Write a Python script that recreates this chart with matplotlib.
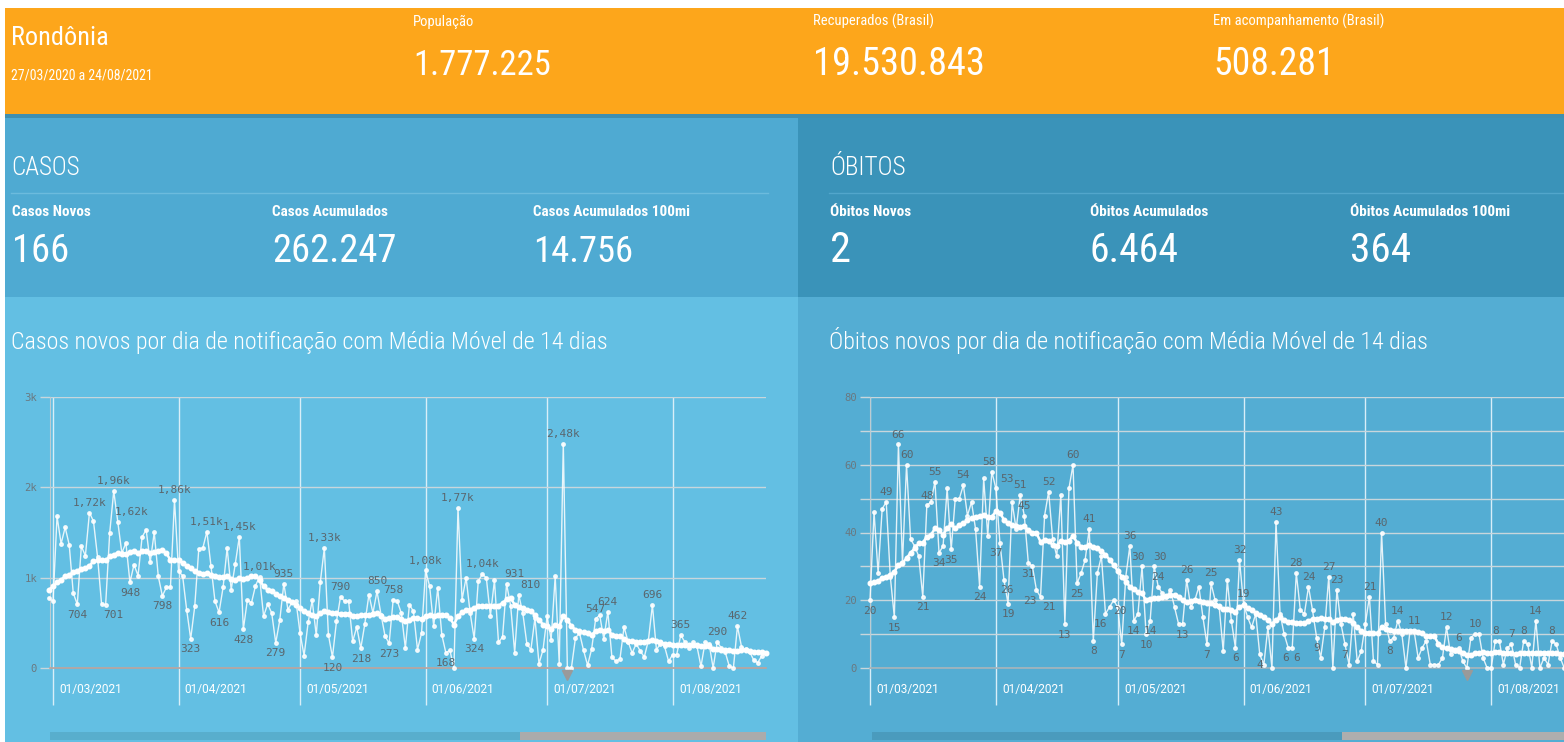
import matplotlib
matplotlib.use("Agg")
import matplotlib.pyplot as plt
import matplotlib.dates as mdates
from matplotlib import font_manager as fm
from matplotlib.patches import Rectangle
from matplotlib.transforms import ScaledTranslation
import pandas as pd

W, H = 1564, 742

# pick the most condensed sans family that is installed (falls back to Roboto)
_names = {f.name for f in fm.fontManager.ttflist}
_pref = ['Noto Sans ExtraCondensed', 'Roboto Condensed', 'Noto Sans Condensed',
         'Open Sans Condensed', 'Liberation Sans Narrow', 'DejaVu Sans Condensed',
         'Noto Sans SemiCondensed', 'Open Sans SemiCondensed', 'Roboto']
COND_NAME = next((n for n in _pref if n in _names), 'DejaVu Sans')
COND = [COND_NAME, 'DejaVu Sans']
MONO = ['DejaVu Sans Mono']

# ---------------- data ----------------
state_name = "Rondônia"
period = "27/03/2020 a 24/08/2021"
header_labels = ["População", "Recuperados (Brasil)", "Em acompanhamento (Brasil)"]
header_values = ["1.777.225", "19.530.843", "508.281"]
case_section = "CASOS"
death_section = "ÓBITOS"
case_kpi_labels = ["Casos Novos", "Casos Acumulados", "Casos Acumulados 100mi"]
case_kpi_values = ["166", "262.247", "14.756"]
death_kpi_labels = ["Óbitos Novos", "Óbitos Acumulados", "Óbitos Acumulados 100mi"]
death_kpi_values = ["2", "6.464", "364"]
case_title = "Casos novos por dia de notificação com Média Móvel de 14 dias"
death_title = "Óbitos novos por dia de notificação com Média Móvel de 14 dias"

cases_start = "2021-02-28"
deaths_start = "2021-03-01"

cases_daily = [775, 738, 1679, 1376, 1557, 1365, 830, 704, 1347, 1243,
               1720, 1624, 1229, 705, 701, 1494, 1960, 1620, 1273, 1384,
               948, 1144, 1022, 1450, 1531, 1170, 1502, 1015, 798, 893,
               893, 1860, 1070, 1022, 646, 323, 683, 1321, 1328, 1510,
               1133, 738, 616, 893, 1328, 867, 1151, 1450, 428, 756,
               720, 911, 1010, 572, 708, 609, 279, 531, 935, 646,
               727, 738, 387, 137, 505, 749, 362, 948, 1330, 369,
               120, 517, 790, 738, 738, 295, 454, 218, 491, 812,
               609, 850, 590, 351, 273, 758, 740, 609, 221, 701,
               627, 203, 387, 1080, 904, 461, 886, 369, 168, 196,
               0, 1770, 756, 1000, 609, 324, 959, 1040, 996, 579,
               970, 284, 343, 931, 690, 170, 810, 609, 269, 203,
               553, 48, 203, 572, 314, 1015, 48, 2480, 0, 0,
               332, 387, 196, 30, 210, 547, 583, 321, 624, 122,
               74, 103, 454, 292, 166, 269, 188, 122, 303, 696,
               203, 269, 240, 74, 148, 148, 365, 288, 221, 284,
               240, 18, 284, 269, 0, 290, 221, 173, 18, 0,
               462, 236, 206, 181, 89, 59, 133, 166]

cases_ma = [867, 904, 948, 978, 1015, 1033, 1059, 1077, 1096, 1107,
            1133, 1181, 1192, 1199, 1192, 1236, 1255, 1273, 1266, 1266,
            1280, 1292, 1273, 1292, 1299, 1273, 1280, 1292, 1303, 1273,
            1192, 1199, 1192, 1162, 1133, 1107, 1070, 1052, 1044, 1052,
            1033, 1022, 1007, 1007, 1022, 985, 978, 996, 985, 996,
            1015, 1015, 978, 904, 867, 849, 823, 800, 770, 749,
            731, 701, 664, 627, 609, 590, 572, 609, 627, 616,
            609, 609, 601, 601, 601, 579, 579, 583, 583, 590,
            601, 609, 579, 542, 553, 564, 564, 542, 517, 535,
            553, 553, 546, 572, 583, 572, 590, 583, 583, 553,
            480, 572, 616, 638, 646, 664, 683, 690, 683, 683,
            683, 690, 720, 760, 775, 700, 680, 664, 638, 627,
            590, 535, 480, 461, 432, 480, 461, 572, 535, 461,
            424, 406, 395, 387, 369, 406, 424, 406, 424, 369,
            351, 351, 321, 295, 295, 284, 284, 292, 295, 306,
            295, 284, 269, 262, 255, 251, 255, 251, 251, 251,
            251, 247, 247, 247, 210, 210, 203, 203, 196, 192,
            185, 196, 196, 185, 177, 173, 173, 166]

deaths_daily = [20, 46, 28, 47, 49, 27, 15, 66, 31, 60,
                38, 36, 33, 21, 48, 49, 55, 34, 36, 53,
                35, 50, 50, 54, 45, 49, 41, 24, 56, 39,
                58, 53, 37, 26, 19, 49, 41, 51, 45, 31,
                30, 23, 21, 45, 52, 38, 33, 51, 13, 53,
                60, 25, 28, 32, 41, 8, 28, 33, 16, 18,
                20, 18, 7, 27, 36, 14, 16, 30, 10, 14,
                30, 24, 22, 21, 23, 18, 13, 13, 26, 18,
                20, 24, 15, 7, 25, 20, 18, 5, 26, 14,
                6, 32, 19, 15, 12, 16, 4, 1, 12, 0,
                43, 16, 10, 6, 6, 28, 17, 16, 24, 17,
                9, 3, 12, 27, 0, 23, 13, 7, 1, 16,
                2, 5, 13, 21, 2, 1, 40, 13, 8, 9,
                14, 10, 0, 11, 11, 3, 6, 8, 1, 1,
                1, 3, 12, 4, 5, 6, 2, 0, 9, 10,
                10, 3, 0, 0, 8, 8, 1, 6, 7, 1,
                0, 8, 7, 0, 14, 0, 3, 1, 8, 7,
                3, 0, 4, 6, 3, 5, 2]

deaths_ma = [25, 25.3, 25.8, 26.5, 27, 27.5, 28.4, 30.4, 31, 32.4,
             34, 35.3, 36.8, 37, 38.8, 39.3, 41.2, 40.7, 39.3, 41.2,
             42.5, 41.2, 42.2, 42.7, 43.7, 44.2, 44.7, 44.9, 45.2, 44.5,
             44.7, 46.2, 45.9, 43.7, 42.7, 42.2, 41.9, 41.7, 41.9, 40.7,
             40, 39.8, 37.3, 37.8, 37.6, 36.3, 36, 37.6, 37.3, 37.6,
             39, 37, 35.8, 35.8, 36.3, 35.8, 35.5, 34.5, 33.4, 32,
             30.4, 28.7, 27, 25.5, 24, 23.2, 22.5, 22, 20, 20.3,
             20.6, 20.6, 21, 21.3, 21.6, 21.6, 21, 20, 19.6, 19.9,
             20, 19.9, 19.6, 19.3, 19.1, 18.6, 18.3, 17.3, 17.3, 17.1,
             16.6, 18.1, 18.6, 17.6, 17.1, 16.3, 15.6, 15, 14.2, 13,
             14.2, 15, 14.2, 13.7, 13.5, 13.4, 13.2, 13.2, 14, 14.4,
             14.6, 14.7, 14.6, 14.4, 13.7, 14.2, 14.4, 14.4, 14.2, 13.4,
             12.0, 11.0, 10.4, 10.4, 10.2, 10.2, 12.0, 11.4, 11.2, 11.0,
             11.0, 11.0, 11.0, 11.0, 11.0, 10.7, 10.2, 9.4, 9.4, 9.4,
             7.1, 6.1, 5.8, 5.5, 5.3, 5.1, 4.5, 3.9, 3.9, 4.3,
             4.5, 4.8, 4.3, 4.3, 4.8, 4.8, 4.3, 4.5, 4.3, 4.1,
             4.3, 4.5, 4.5, 4.3, 4.5, 4.5, 4.5, 4.5, 4.5, 4.3,
             4.1, 4.1, 4.0, 4.0, 3.9, 3.9, 3.8]

# indices (position in each daily list) of the points that carry a value label
cases_label_idx = [7, 10, 14, 16, 17, 20, 28, 31, 35, 39, 42, 47, 48, 52, 56,
                   58, 68, 70, 72, 77, 81, 84, 85, 93, 98, 101, 105, 107, 113,
                   116, 127, 135, 138, 149, 156, 165, 170]
deaths_label_idx = [0, 4, 6, 7, 9, 13, 14, 16, 17, 20, 23, 27, 30, 31, 32, 33,
                    34, 37, 38, 39, 41, 42, 44, 48, 50, 51, 54, 55, 58, 60, 62,
                    64, 65, 67, 68, 69, 70, 71, 77, 78, 83, 84, 90, 91, 92, 96,
                    100, 103, 104, 105, 108, 110, 113, 115, 117, 123, 126, 128,
                    130, 134, 142, 145, 149, 154, 158, 161, 164, 168]

month_ticks = ["2021-03-01", "2021-04-01", "2021-05-01", "2021-06-01",
               "2021-07-01", "2021-08-01"]
month_labels = ["01/03/2021", "01/04/2021", "01/05/2021", "01/06/2021",
                "01/07/2021", "01/08/2021"]
cases_yticks = [0, 1000, 2000, 3000]
cases_yticklabels = ["0", "1k", "2k", "3k"]
deaths_yticks = [0, 20, 40, 60, 80]
deaths_yticklabels = ["0", "20", "40", "60", "80"]
deaths_yminor = [10, 30, 50, 70]
cases_marker_date = ["2021-07-06"]
deaths_marker_date = ["2021-07-26"]

# layout-only: horizontal nudges (px) of some value labels to avoid overlaps
cases_label_dx = {14: 8, 17: 14, 113: 8, 116: 12}
deaths_label_dx = {30: -3, 31: 11, 41: -7, 42: 8, 32: -4, 33: 3, 58: -5, 60: 6,
                   103: -3, 104: 4, 67: -4, 70: 6}

# ---------------- figure ----------------
fig = plt.figure(figsize=(W / 100, H / 100), dpi=100)
fig.patch.set_facecolor("white")
renderer = fig.canvas.get_renderer()


def fx(px):
    return px / W


def fy(py):
    return 1 - py / H


def rect(x0, y0, x1, y1, color, z=0):
    fig.add_artist(Rectangle((fx(x0), fy(y1)), fx(x1) - fx(x0), fy(y0) - fy(y1),
                             transform=fig.transFigure, facecolor=color,
                             edgecolor="none", zorder=z))


def line(x0, x1, y, color, lw=1.0):
    fig.add_artist(plt.Line2D([fx(x0), fx(x1)], [fy(y), fy(y)],
                              transform=fig.transFigure, color=color, lw=lw))


def ftext(x, y, s, width_px, max_pt, weight="normal", color="white"):
    """Text at baseline y, shrunk so that it is not wider than width_px."""
    t = fig.text(fx(x), fy(y), s, fontsize=max_pt, fontweight=weight, family=COND,
                 color=color, va="baseline", ha="left")
    w = t.get_window_extent(renderer).width
    if w > width_px:
        t.set_fontsize(max_pt * width_px / w)
    return t


# backgrounds
rect(5, 8, W, 116, "#FDA61B")
rect(5, 116, 798, 297, "#4FAAD2")
rect(798, 116, W, 297, "#3A93B9")
rect(5, 297, 798, H, "#63BFE3")
rect(798, 297, W, H, "#54ADD3")
rect(5, 114, W, 118, "#3f8fb0")

# header
ftext(11, 45, state_name, 97, 28)
ftext(11, 80, period, 142, 11)
hdr_lab_w = [67, 133, 189]
hdr_val_w = [138, 172, 122]
for i, (lab, val) in enumerate(zip(header_labels, header_values)):
    x = 413 + 400 * i
    ftext(x, 26, lab, hdr_lab_w[i], 10.5)
    ftext(x, 75, val, hdr_val_w[i], 34)

# KPI sections
ftext(11, 175, case_section, 69, 25, weight="light")
ftext(830, 175, death_section, 76, 25, weight="light")
line(11, 768, 193, "#6cbbdd", 1.0)
line(829, W, 193, "#52a6cb", 1.0)
case_lab_w = [87, 126, 156]
case_val_w = [57, 125, 100]
for i, (lab, val) in enumerate(zip(case_kpi_labels, case_kpi_values)):
    x = 12 + 260.5 * i
    ftext(x, 216, lab, case_lab_w[i], 11, weight="bold")
    ftext(x, 262, val, case_val_w[i], 34)
death_lab_w = [88, 129, 173]
death_val_w = [21, 89, 61]
for i, (lab, val) in enumerate(zip(death_kpi_labels, death_kpi_values)):
    x = 830 + 260 * i
    ftext(x, 216, lab, death_lab_w[i], 11, weight="bold")
    ftext(x, 262, val, death_val_w[i], 34)

ftext(11, 349, case_title, 595, 21, weight="light")
ftext(829, 349, death_title, 599, 21, weight="light")

# scrollbars
rect(50, 732, 520, 740, "#58AECD")
rect(520, 732, 766, 740, "#ABABAB")
rect(872, 732, 1342, 740, "#4A9BBD")
rect(1342, 732, W, 740, "#AEAEAE")

# ---------------- charts ----------------
d0 = mdates.date2num(pd.Timestamp("2021-03-01"))
tick_pos = mdates.date2num(pd.to_datetime(month_ticks))
LABEL_C = "#5a666d"
HGRID = "#c8d6dc"
VGRID = "#d8eef8"


def fmt_cases(v):
    if v >= 1000:
        return ("%.2f" % (v / 1000)).replace(".", ",") + "k"
    return "%d" % v


def fmt_deaths(v):
    return "%d" % v


def make_chart(x0px, x1px, xlim, ylim, start, daily, ma, label_idx, label_dx, fmt,
               yticks, yticklabels, yminor, marker_date, bottom_color):
    ax = fig.add_axes([fx(x0px), fy(668), fx(x1px) - fx(x0px), fy(397) - fy(668)])
    ax.set_facecolor("none")
    dates = mdates.date2num(pd.date_range(start, periods=len(daily), freq="D"))
    ax.plot(dates, daily, color="white", lw=1.0, alpha=0.85, marker="o", ms=2.5,
            mec="white", mfc="white", zorder=3, clip_on=False)
    ax.plot(dates, ma, color="white", lw=1.8, marker="o", ms=3.3,
            mec="white", mfc="white", zorder=4, clip_on=False)
    ax.set_xlim(*xlim)
    ax.set_ylim(*ylim)
    # value labels
    for i in label_idx:
        v = daily[i]
        above = v >= ma[i]
        dx = label_dx.get(i, 0) * 0.72
        ax.annotate(fmt(v), (dates[i], v), xytext=(dx, 3.5 if above else -4),
                    textcoords="offset points", ha="center",
                    va="bottom" if above else "top", fontsize=8,
                    family=MONO, color=LABEL_C, zorder=5, annotation_clip=False)
    # y axis
    ax.set_yticks(yticks)
    ax.set_yticklabels(yticklabels, family=MONO, fontsize=7.6, color="#6a7880")
    if yminor:
        ax.set_yticks(yminor, minor=True)
    ax.tick_params(axis="y", which="both", length=7.2, width=1.0, color=HGRID, pad=2)
    ax.grid(axis="y", which="both", color=HGRID, lw=1.0, zorder=1)
    # x axis
    ax.set_xticks(tick_pos)
    ax.set_xticklabels(month_labels, fontsize=8.6, family=["Roboto", "DejaVu Sans"],
                       color="white")
    ax.tick_params(axis="x", length=26.6, width=1.0, color=VGRID, pad=-15.5)
    off = ScaledTranslation(4.5 / 72, 0, fig.dpi_scale_trans)
    for lbl in ax.get_xticklabels():
        lbl.set_horizontalalignment("left")
        lbl.set_transform(lbl.get_transform() + off)
    ax.grid(axis="x", color=VGRID, lw=1.0, zorder=1)
    ax.set_axisbelow(True)
    for s in ["top", "right"]:
        ax.spines[s].set_visible(False)
    ax.spines["left"].set_color("#bccbd1")
    ax.spines["bottom"].set_color(bottom_color)
    ax.spines["bottom"].set_linewidth(1.2)
    # scroll marker
    md = mdates.date2num(pd.to_datetime(marker_date))
    ax.plot(md, [-0.027] * len(md), marker="v", ms=7, color="#9a9a9a", ls="none",
            transform=ax.get_xaxis_transform(), clip_on=False, zorder=6)
    return ax


ax1 = make_chart(50, 766, (d0 - 0.74, d0 + 176.05), (0, 3000), cases_start,
                 cases_daily, cases_ma, cases_label_idx, cases_label_dx, fmt_cases,
                 cases_yticks, cases_yticklabels, None, cases_marker_date, "#bda39c")
ax2 = make_chart(870, 1586, (d0, d0 + 176.35), (0, 80), deaths_start,
                 deaths_daily, deaths_ma, deaths_label_idx, deaths_label_dx, fmt_deaths,
                 deaths_yticks, deaths_yticklabels, deaths_yminor, deaths_marker_date,
                 "#a7b4ba")

fig.savefig("out.png", dpi=100, facecolor=fig.get_facecolor())
